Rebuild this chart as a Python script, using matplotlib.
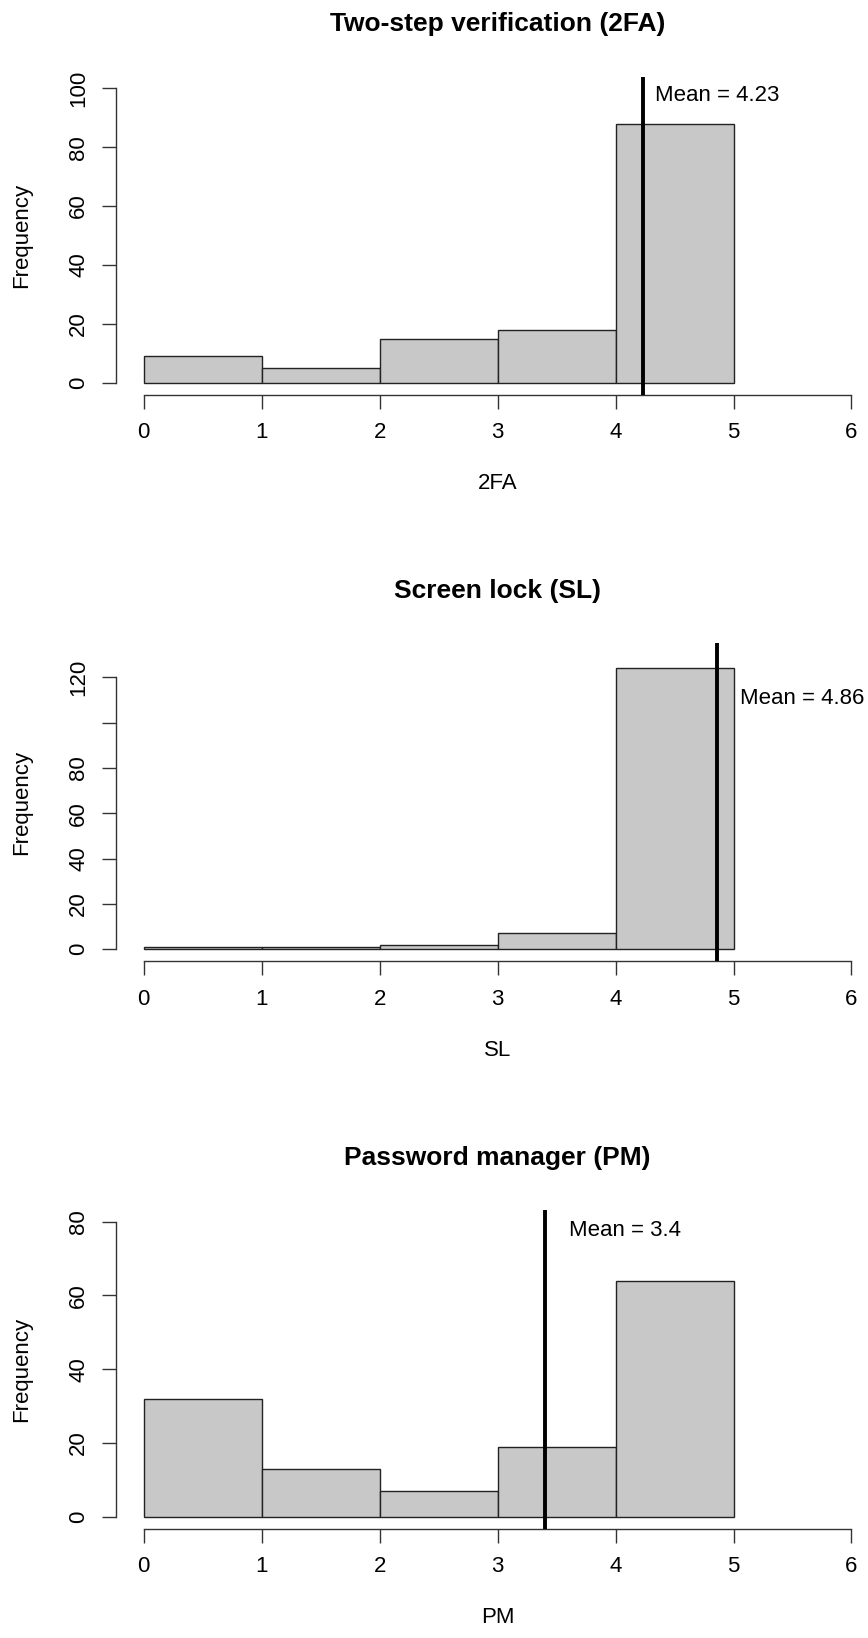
import numpy as np
import matplotlib
import matplotlib.pyplot as plt

matplotlib.use("Agg")

plt.rcParams["font.family"] = ["Liberation Sans", "DejaVu Sans"]

# histogram data (bins 0..5, counts per unit bin)
bin_edges = [0, 1, 2, 3, 4, 5]
counts_2fa = [9, 5, 15, 18, 88]
counts_sl = [1, 1, 2, 7, 124]
counts_pm = [32, 13, 7, 19, 64]

means = [4.23, 4.86, 3.4]
titles = ["Two-step verification (2FA)", "Screen lock (SL)", "Password manager (PM)"]
xlabels = ["2FA", "SL", "PM"]
ylim_max = [100, 130, 80]
ytick_vals = [[0, 20, 40, 60, 80, 100],
              [0, 20, 40, 60, 80, 100, 120],
              [0, 20, 40, 60, 80]]
ytick_labels = [["0", "20", "40", "60", "80", "100"],
                ["0", "20", "40", "60", "80", "", "120"],
                ["0", "20", "40", "60", "80"]]
xtick_vals = [0, 1, 2, 3, 4, 5, 6]

# layout in pixels (fig 868 x 1638)
W, H = 868, 1638
ax_left, ax_right = 115.5, 879.8
panel_px = [(76.5, 394.5), (642.8, 961.1), (1209.9, 1528.5)]
label_y = [97.5, 110.7, 77.7]
label_dx_px = [12.7, 23, 24]
px_per_unit = 118.0

fig = plt.figure(figsize=(W / 100, H / 100), dpi=100)
all_counts = [counts_2fa, counts_sl, counts_pm]

for i in range(3):
    top, bot = panel_px[i]
    ax = fig.add_axes([ax_left / W, 1 - bot / H,
                       (ax_right - ax_left) / W, (bot - top) / H])
    ymax = ylim_max[i]
    ax.set_xlim(-0.24, 6.24)
    ax.set_ylim(-0.04 * ymax, 1.04 * ymax)

    ax.bar(bin_edges[:-1], all_counts[i], width=1, align="edge",
           color="#c8c8c8", edgecolor="#222222", linewidth=1.0, zorder=2)
    ax.axvline(means[i], color="black", linewidth=2.8, zorder=3)
    ax.text(means[i] + label_dx_px[i] / px_per_unit, label_y[i],
            f"Mean = {means[i]:g}", fontsize=16, ha="left", va="center")

    for s in ["top", "right"]:
        ax.spines[s].set_visible(False)
    ax.spines["left"].set_bounds(ytick_vals[i][0], ytick_vals[i][-1])
    ax.spines["bottom"].set_bounds(xtick_vals[0], xtick_vals[-1])
    for s in ["left", "bottom"]:
        ax.spines[s].set_color("#333333")
        ax.spines[s].set_linewidth(1.0)

    ax.set_xticks(xtick_vals)
    ax.set_yticks(ytick_vals[i])
    ax.set_yticklabels(ytick_labels[i])
    ax.tick_params(axis="both", length=10, width=1.0, color="#333333",
                   labelsize=16)
    ax.tick_params(axis="x", pad=10)
    ax.tick_params(axis="y", pad=9, labelrotation=90)
    for lab in ax.get_yticklabels():
        lab.set_va("center")

    ax.set_xlabel(xlabels[i], fontsize=16)
    ax.xaxis.set_label_coords(0.5, -89 / (bot - top))
    ax.xaxis.label.set_va("center")
    ax.set_ylabel("Frequency", fontsize=16)
    ax.yaxis.set_label_coords(-94 / (ax_right - ax_left), 0.5)
    ax.yaxis.label.set_va("center")

    ax.text(0.5, 1 + 52 / (bot - top), titles[i], transform=ax.transAxes,
            ha="center", va="center", fontsize=19, fontweight="bold")

fig.savefig("out.png", dpi=100)
